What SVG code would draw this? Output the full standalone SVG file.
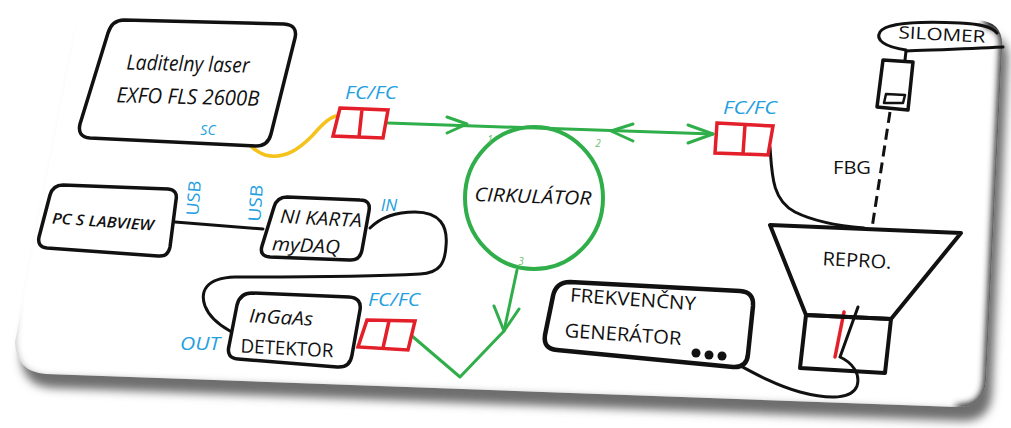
<svg xmlns="http://www.w3.org/2000/svg" width="1011" height="428" viewBox="0 0 1011 428">
  <defs>
    <style>
      .box { fill: #fff; stroke: #111; stroke-width: 3.5; stroke-linejoin: round; }
      .thick { stroke-width: 4.5; }
      .open { fill: none; stroke: #111; stroke-width: 4; stroke-linejoin: round; }
      .thin { fill: #fff; stroke: #111; stroke-width: 2.5; stroke-linejoin: round; }
      .cable { fill: none; stroke: #111; stroke-width: 3; stroke-linecap: round; stroke-linejoin: round; }
      .fiber { fill: none; stroke: #2fae4a; stroke-width: 3; stroke-linecap: round; stroke-linejoin: round; }
      .fc { fill: none; stroke: #e3202a; stroke-width: 3.5; stroke-linejoin: miter; }
      .lbl { font-family: "Open Sans", "Liberation Sans", sans-serif; fill: #111; text-anchor: middle; dominant-baseline: central; }
      .it { font-style: italic; }
      .port { font-family: "Open Sans", "Liberation Sans", sans-serif; fill: #22a0e2; text-anchor: middle; dominant-baseline: central; font-style: italic; }
      .up { font-style: normal; }
      .num { font-family: "Open Sans", "Liberation Sans", sans-serif; fill: #6cc070; text-anchor: middle; dominant-baseline: central; font-style: italic; font-size: 10px; }
    </style>
    <filter id="blur5" x="-10%" y="-10%" width="120%" height="140%">
      <feGaussianBlur stdDeviation="5"/>
    </filter>
    <filter id="blur3" x="-10%" y="-10%" width="120%" height="120%">
      <feGaussianBlur stdDeviation="3.5"/>
    </filter>
    <clipPath id="cardClip">
      <path d="M 98,6 L 976,20 Q 1004,21 1002,48 L 986,380 Q 984,408 956,407 L 46,374 Q 16,372 15,342 L 76,28 Q 80,6 98,6 Z"/>
    </clipPath>
  </defs>

  <rect width="1011" height="428" fill="#fff"/>

  <!-- card with drop shadow and shaded right rim -->
  <g id="card">
    <path d="M 98,6 L 976,20 Q 1004,21 1002,48 L 986,380 Q 984,408 956,407 L 46,374 Q 16,372 15,342 L 76,28 Q 80,6 98,6 Z" transform="translate(6,14)" fill="#6e6e6e" filter="url(#blur5)"/>
    <path d="M 98,6 L 976,20 Q 1004,21 1002,48 L 986,380 Q 984,408 956,407 L 46,374 Q 16,372 15,342 L 76,28 Q 80,6 98,6 Z" fill="#fff"/>
    <g clip-path="url(#cardClip)">
      <path d="M 985,20 Q 1009,22 1007,48 L 991,380 Q 989,413 956,412" fill="none" stroke="#111" stroke-width="14" filter="url(#blur3)"/>
      <path d="M 14,300 L 12,342 Q 14,377 46,379 L 956,412" fill="none" stroke="#aaa" stroke-width="6" filter="url(#blur3)"/>
    </g>
  </g>

  <!-- connectors -->
  <g id="connectors">
    <!-- SC patch cord -->
    <path d="M 235,126 C 243,136 250,150 265,155 C 285,160 300,148 312,136 C 320,127 328,118 336,116" fill="none" stroke="#f5c21b" stroke-width="3.5" stroke-linecap="round"/>
    <!-- fiber through circulator port 1 to port 2 -->
    <path class="fiber" d="M 388,123 L 713,134"/>
    <path class="fiber" d="M 447,117 L 467,124 L 447,133"/>
    <path class="fiber" d="M 633,124 L 611,131 L 633,141"/>
    <path class="fiber" d="M 688,125 L 713,134 L 688,143"/>
    <!-- port 3 to detector -->
    <path class="fiber" d="M 517,270 L 504,331 L 460,377 L 412,336"/>
    <path class="fiber" d="M 494,306 L 504,331 L 519,309"/>
    <!-- USB -->
    <path class="cable" d="M 175,222 L 263,229"/>
    <!-- NI IN to detector OUT -->
    <path class="cable" d="M 370,228 C 380,218 395,212 415,212 C 440,212 448,226 446,246 C 445,263 440,273 420,274 C 380,276 300,277 235,277 C 205,278 200,292 205,306 C 210,319 221,326 230,331"/>
    <!-- fiber to FBG -->
    <path class="cable" d="M 770,147 C 772,175 772,200 795,212 C 815,222 840,226 864,228"/>
    <!-- FBG fiber -->
    <path d="M 890,112 L 872,228" fill="none" stroke="#111" stroke-width="3" stroke-dasharray="11 6"/>
    <!-- silomer cable -->
    <path class="cable" d="M 906,51 C 930,50 965,49 1003,47"/>
    <path class="cable" d="M 906,51 L 905,60"/>
    <!-- generator to speaker coil -->
    <path class="cable" d="M 858,307 L 840,357 C 851,362 861,373 857,386 C 852,399 830,400 800,392 C 770,384 742,366 722,356"/>
    <path d="M 844,312 L 835,357" fill="none" stroke="#e3202a" stroke-width="3.5" stroke-linecap="round"/>
  </g>

  <g id="laser">
    <path class="box" d="M 124,20 L 284,24 Q 298,25 295,38 L 271,134 Q 268,146 256,146 L 90,138 Q 77,137 80,124 L 108,33 Q 112,20 124,20 Z"/>
    <text class="lbl it" x="188" y="63" font-size="21" textLength="123" lengthAdjust="spacingAndGlyphs" transform="rotate(1.5 188 63)">Laditelny laser</text>
    <text class="lbl it" x="188" y="96" font-size="21" textLength="143" lengthAdjust="spacingAndGlyphs" transform="rotate(1.5 188 96)">EXFO FLS 2600B</text>
    <text class="port" x="208" y="129" font-size="14">SC</text>
  </g>

  <g id="fc1">
    <path class="fc" d="M 340,108 L 388,110 L 383,138 L 333,136 Z M 362,109 L 359,137"/>
    <text class="port" x="371" y="92" font-size="18" textLength="52" lengthAdjust="spacingAndGlyphs">FC/FC</text>
  </g>

  <g id="fc2">
    <path class="fc" d="M 717,123 L 773,126 L 768,155 L 715,153 Z M 745,125 L 743,154"/>
    <text class="port" x="750" y="107" font-size="18" textLength="54" lengthAdjust="spacingAndGlyphs">FC/FC</text>
  </g>

  <g id="fc3">
    <path class="fc" d="M 367,320 L 415,321 L 408,350 L 358,347 Z M 389,321 L 383,348"/>
    <text class="port" x="394" y="299" font-size="18" textLength="52" lengthAdjust="spacingAndGlyphs">FC/FC</text>
  </g>

  <g id="circulator">
    <ellipse cx="534" cy="198" rx="69" ry="71" fill="none" stroke="#2fae4a" stroke-width="4"/>
    <text class="lbl it" x="533" y="196" font-size="19" textLength="117" lengthAdjust="spacingAndGlyphs" transform="rotate(2 533 196)">CIRKULÁTOR</text>
    <text class="num" x="490" y="139">1</text>
    <text class="num" x="598" y="143">2</text>
    <text class="num" x="521" y="261">3</text>
  </g>

  <g id="pc">
    <path class="box" d="M 63,185 L 168,189 Q 178,190 176,200 L 170,247 Q 168,257 158,256 L 47,248 Q 37,247 39,237 L 50,195 Q 53,185 63,185 Z"/>
    <text class="lbl it" x="103" y="221" font-size="15" font-weight="600" textLength="102" lengthAdjust="spacingAndGlyphs" transform="rotate(4 103 221)">PC S LABVIEW</text>
    <text class="port up" x="193" y="198" font-size="17" textLength="35" lengthAdjust="spacingAndGlyphs" transform="rotate(-86 193 198)">USB</text>
  </g>

  <g id="nikarta">
    <path class="box" d="M 287,197 L 360,200 Q 371,200 369,211 L 362,250 Q 360,261 349,260 L 270,257 Q 259,256 262,246 L 274,207 Q 277,197 287,197 Z"/>
    <text class="lbl it" x="321" y="218" font-size="19" textLength="82" lengthAdjust="spacingAndGlyphs" transform="rotate(3 321 218)">NI KARTA</text>
    <text class="lbl it" x="306" y="245" font-size="19" textLength="68" lengthAdjust="spacingAndGlyphs" transform="rotate(3 306 245)">myDAQ</text>
    <text class="port up" x="255" y="203" font-size="17" textLength="37" lengthAdjust="spacingAndGlyphs" transform="rotate(-86 255 203)">USB</text>
    <text class="port" x="389" y="204" font-size="17">IN</text>
  </g>

  <g id="detektor">
    <path class="box" d="M 252,293 L 349,297 Q 362,298 360,310 L 352,355 Q 350,368 337,367 L 238,359 Q 226,358 229,346 L 237,305 Q 240,293 252,293 Z"/>
    <text class="lbl it" x="281" y="317" font-size="19" textLength="64" lengthAdjust="spacingAndGlyphs" transform="rotate(3 281 317)">InGaAs</text>
    <text class="lbl" x="287" y="348" font-size="19" textLength="93" lengthAdjust="spacingAndGlyphs" transform="rotate(3 287 348)">DETEKTOR</text>
    <text class="port" x="200" y="343" font-size="18" textLength="40" lengthAdjust="spacingAndGlyphs">OUT</text>
  </g>

  <g id="generator">
    <path class="box thick" d="M 570,282 L 740,291 Q 754,292 753,306 L 748,354 Q 747,368 733,367 L 557,350 Q 543,349 545,335 L 553,296 Q 556,282 570,282 Z"/>
    <text class="lbl" x="633" y="299" font-size="19" textLength="126" lengthAdjust="spacingAndGlyphs" transform="rotate(4 633 299)">FREKVENČNY</text>
    <text class="lbl" x="623" y="334" font-size="19" textLength="117" lengthAdjust="spacingAndGlyphs" transform="rotate(4 623 334)">GENERÁTOR</text>
    <circle cx="696" cy="353" r="4.5" fill="#111"/>
    <circle cx="709" cy="355" r="4.5" fill="#111"/>
    <circle cx="722" cy="356" r="4.5" fill="#111"/>
  </g>

  <g id="repro">
    <path class="open" d="M 770,225 L 961,233 L 891,319 L 806,315 Z"/>
    <path class="open" d="M 806,315 L 891,319 L 885,373 L 800,368 Z"/>
    <text class="lbl" x="857" y="260" font-size="19" textLength="69" lengthAdjust="spacingAndGlyphs" transform="rotate(3 857 260)">REPRO.</text>
  </g>

  <g id="fbg">
    <text class="lbl" x="852" y="167" font-size="19" textLength="38" lengthAdjust="spacingAndGlyphs">FBG</text>
  </g>

  <g id="silomer">
    <path class="box" stroke-width="3" d="M 883,60 L 913,62 L 908,110 L 877,107 Z"/>
    <path class="thin" d="M 886,94 L 905,95 L 903,103 L 884,103 Z"/>
    <path class="cable" d="M 906,50 C 885,47 875,40 880,32 C 886,23 920,21 960,23 C 982,24 992,27 997,33"/>
    <text class="lbl" x="942" y="34" font-size="17" textLength="87" lengthAdjust="spacingAndGlyphs" transform="rotate(3 942 34)">SILOMER</text>
  </g>
</svg>
